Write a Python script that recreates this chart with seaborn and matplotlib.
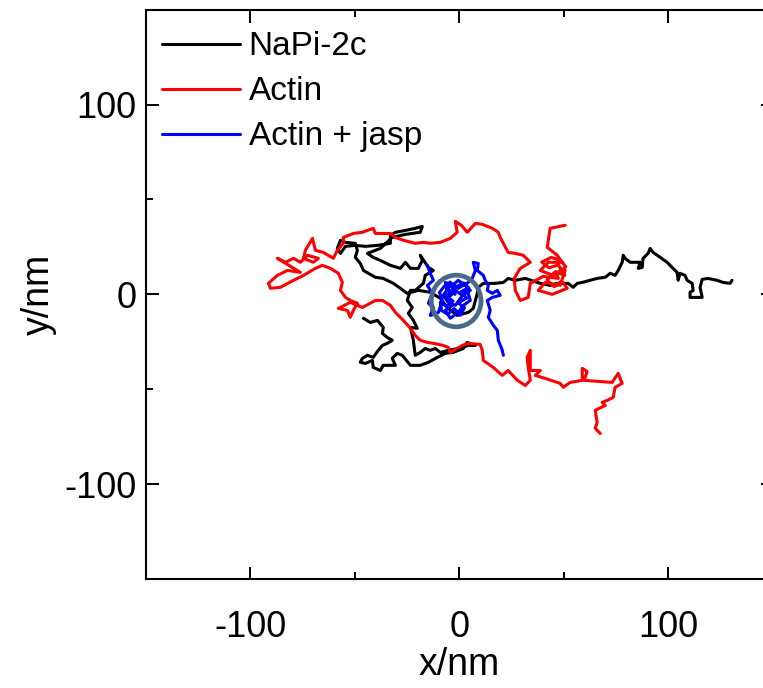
import numpy as np
import pandas as pd
import matplotlib
matplotlib.use("Agg")
import matplotlib.pyplot as plt
from matplotlib.patches import Ellipse
import seaborn as sns

# ---- data (nm) ----
napi_x = [130.6, 129.7, 126.3, 123.5, 119.1, 116.3, 115.3, 116.3, 110.5, 110.5, 112.0, 111.5, 109.1, 108.1,
          105.7, 104.8, 104.3, 101.9, 99.5, 96.2, 92.8, 91.4, 90.4, 88.0, 87.6, 85.7, 86.6, 81.8, 79.4, 78.5,
          78.0, 76.1, 74.6, 72.3, 69.9, 66.0, 62.7, 58.9, 56.5, 54.5, 52.2, 46.9, 43.5, 38.8, 31.6, 26.8, 23.4,
          21.1, 17.2, 11.5, 9.1, 8.6, 7.7, 6.7, 4.3, -1.0, -5.3, -9.1, -13.9, -19.6, -24.9, -28.2, -31.6, -36.4,
          -40.2, -45.9, -47.4, -49.8, -48.8, -49.8, -54.5, -56.9, -58.4, -56.9, -54.5, -49.8, -45.0, -39.2,
          -33.0, -33.0, -30.6, -25.8, -21.1, -17.7, -18.7, -25.8, -32.1, -37.8, -44.0, -41.2, -37.8, -33.0,
          -28.2, -25.8, -23.4, -19.6, -17.7, -18.7, -14.8, -12.4, -16.3, -17.2, -21.1, -23.4, -24.9, -22.5,
          -24.4, -22.0, -20.1, -23.4, -22.0, -21.1, -18.7, -16.3, -13.9, -11.5, -9.1, -5.3, -0.5, 4.3, 7.7,
          3.8, 1.9, -2.9, -6.7, -10.5, -14.8, -18.7, -23.4, -27.3, -29.7, -32.1, -30.6, -36.4, -37.8, -41.2,
          -41.6, -45.0, -47.4, -46.4, -44.0, -41.2, -38.8, -36.8, -34.5, -32.1, -34.5, -36.8, -36.4, -39.2,
          -42.6, -45.9]
napi_y = [7.4, 5.8, 6.3, 7.4, 8.4, 7.9, 3.7, -1.6, -1.6, 1.1, 2.1, 5.8, 7.4, 10.0, 11.1, 7.4, 11.6, 14.2,
          16.9, 19.5, 22.1, 24.2, 21.6, 19.0, 14.2, 13.7, 16.9, 16.9, 19.0, 20.6, 16.9, 12.6, 10.0, 11.1, 9.0,
          8.4, 7.4, 6.3, 5.8, 3.7, 5.8, 5.8, 4.7, 5.8, 8.4, 7.4, 8.4, 6.3, 5.8, 5.8, 3.7, 0.5, -3.2, -7.4, -9.5,
          -11.1, -7.4, -2.1, 1.1, 2.1, 0.5, 3.2, 5.8, 8.4, 9.0, 12.6, 16.3, 19.5, 23.2, 26.9, 27.4, 28.5, 24.2,
          21.6, 25.3, 25.8, 25.3, 25.8, 26.9, 31.1, 32.7, 33.7, 34.8, 35.8, 32.7, 31.6, 30.0, 24.2, 21.6, 19.5,
          17.9, 15.3, 13.7, 16.9, 13.7, 13.7, 17.9, 20.6, 14.2, 12.6, 10.0, 5.8, 2.1, 2.1, -3.2, -6.9, -10.0,
          -13.7, -17.9, -17.4, -24.2, -32.1, -30.6, -28.5, -29.5, -28.5, -30.6, -29.5, -28.5, -26.9, -26.9,
          -25.3, -28.5, -30.6, -31.1, -33.2, -35.8, -37.4, -37.4, -32.1, -31.1, -33.7, -37.4, -37.4, -40.1,
          -38.5, -34.8, -36.4, -35.8, -33.7, -32.1, -33.2, -29.5, -26.9, -25.8, -24.2, -22.7, -20.6, -17.4,
          -13.7, -14.8, -12.6]

actin_x = [50.7, 43.5, 42.1, 46.9, 49.3, 42.6, 38.8, 45.0, 50.7, 48.3, 41.2, 37.8, 44.5, 51.7,
           49.0, 45.5, 42.0, 46.0, 50.5, 47.5, 43.0, 39.5, 44.0, 48.5, 51.0, 46.5,
           47.4, 40.2, 34.0, 33.0, 29.2, 26.8, 26.3, 29.2, 34.0, 30.6, 26.8, 23.4, 21.1, 19.6, 18.7, 15.8, 11.0,
           7.7, 3.8, 1.0, -1.9, -1.0, -4.3, -9.1, -13.9, -17.2, -21.1, -26.8, -30.6, -33.0, -37.8, -40.2, -41.2,
           -46.4, -50.7, -55.5, -55.5, -58.4, -60.3, -65.1, -68.9, -70.3, -73.7, -74.6, -69.9, -67.5, -72.7,
           -76.1, -79.4, -83.3, -87.1, -80.9, -76.1, -82.3, -87.1, -91.4, -90.4, -85.7, -79.4, -74.6, -68.9,
           -65.6, -61.7, -57.9, -56.0, -56.9, -54.5, -52.2, -48.8, -50.7, -52.2, -53.6, -57.9, -52.2, -46.4,
           -40.2, -36.8, -33.0, -30.6, -26.8, -23.4, -21.1, -18.7, -15.3, -12.4, -7.7, -5.3, -4.3, -1.0, 1.4,
           4.3, 10.0, 11.0, 11.5, 16.3, 20.6, 23.4, 27.8, 31.6, 34.0, 33.0, 32.5, 34.0, 34.0, 38.8, 36.4, 41.2,
           48.3, 49.8, 53.1, 58.9, 58.9, 61.2, 59.8, 73.2, 76.1, 78.0, 74.6, 73.7, 70.8, 68.4, 69.9, 65.1, 66.0,
           65.1, 67.5]
actin_y = [36.4, 34.8, 24.8, 20.6, 16.9, 16.9, 12.6, 10.0, 12.6, 4.7, 6.3, 2.1, 0.0, 3.2,
           7.0, 4.0, 7.5, 12.0, 10.0, 15.5, 14.0, 17.0, 19.5, 18.0, 14.5, 11.0,
           8.4, 9.5, 5.8, -1.6, -3.2, 2.1, 8.4, 13.7, 16.9, 20.6, 21.6, 22.1, 26.9, 30.0, 32.7, 34.8, 36.9,
           37.4, 32.7, 36.4, 38.5, 32.7, 29.5, 27.4, 26.9, 27.4, 26.9, 28.5, 30.0, 32.1, 32.1, 32.1, 34.8,
           32.7, 32.1, 30.0, 26.9, 23.2, 19.0, 22.1, 23.2, 29.5, 23.2, 19.0, 16.9, 19.0, 20.6, 16.9, 19.0,
           16.9, 19.0, 14.8, 11.6, 12.6, 10.0, 5.8, 3.2, 3.7, 7.4, 10.0, 13.7, 15.3, 13.7, 11.1, 6.3, 2.1,
           -1.6, -3.2, -4.7, -8.4, -12.1, -8.4, -7.4, -4.2, -6.9, -3.2, -3.2, -5.8, -9.5, -13.7, -17.9, -21.6,
           -24.2, -25.3, -25.8, -26.9, -27.9, -30.6, -28.5, -26.9, -25.8, -26.4, -29.5, -34.8, -38.5, -42.7,
           -40.1, -45.3, -48.0, -45.3, -38.5, -33.2, -29.5, -40.1, -40.1, -42.7, -44.3, -46.9, -49.0, -46.4,
           -45.3, -39.0, -40.6, -45.3, -46.4, -41.6, -46.9, -49.0, -54.3, -55.9, -56.9, -58.5, -61.1, -67.5,
           -70.6, -73.3]

jasp_x = [-15.3, -13.9, -12.4, -15.3, -12.9, -14.8, -12.4, -13.9, -10.0, -8.1,
          -9.5, -7.0, -4.0, -6.5, -3.0, -6.0, -9.0, -8.5, -5.5, -2.5, 0.5, 2.5, -0.5, 3.5, 1.0, 4.5, 2.0,
          -1.5, -4.5, -2.0, -6.0,
          -5.3, -6.7, -3.3, -0.5, 2.9, 5.3, 1.4, -1.9, -5.3, -3.3, -6.7, -4.3, -0.5, 1.9, 5.3, 3.8, 0.5,
          -1.9, -5.3, -7.7, -4.3, -0.5, 4.3, 6.2, 7.7, 6.7, 9.1, 8.6, 11.5, 12.4, 13.9, 13.4, 15.8, 18.2,
          19.6, 15.8, 13.4, 14.8, 13.9, 16.3, 18.2, 18.7, 20.6, 21.1]
jasp_y = [15.3, 11.1, 7.4, 4.7, 0.5, -4.7, -6.9, -11.1, -9.5, -3.2,
          1.0, 4.5, 1.5, -1.0, -3.5, -6.5, -4.0, -8.5, -10.5, -7.5, -11.0, -7.0, -4.5, -2.0, 1.5, 3.5, 6.0,
          4.0, 6.5, 0.0, 2.5,
          2.1, 6.3, 4.7, 7.4, 4.7, 2.1, -0.5, 2.1, -2.1, -5.8, -8.4, -12.6, -9.5, -5.8, -3.2, 2.1, -2.1,
          -5.8, -4.2, -0.5, 4.7, 3.2, 6.3, 8.4, 12.6, 16.9, 16.3, 12.6, 10.0, 7.4, 4.7, 2.1, 0.5, 2.1,
          -0.5, -1.6, -3.2, -8.4, -12.1, -16.3, -19.0, -24.2, -29.5, -32.1]

labels = ["NaPi-2c", "Actin", "Actin + jasp"]
colors = ["#000000", "#ff0000", "#0000ff"]
circle_center = (-1.5, -3.5)

x_ticks = [-100, 0, 100]
y_ticks = [-100, 0, 100]

# ---- build tidy table ----
frames = []
for lab, xs, ys in zip(labels, [napi_x, actin_x, jasp_x], [napi_y, actin_y, jasp_y]):
    frames.append(pd.DataFrame({"x": xs, "y": ys, "track": lab}))
df = pd.concat(frames, ignore_index=True)

sns.set_style("ticks")
plt.rcParams["font.family"] = ["Liberation Sans", "DejaVu Sans"]
plt.rcParams["axes.unicode_minus"] = False
for k in ["text.color", "axes.labelcolor", "xtick.color", "ytick.color", "axes.edgecolor"]:
    plt.rcParams[k] = "black"

fig = plt.figure(figsize=(7.63, 6.88), dpi=100)
ax = fig.add_axes([0.1914, 0.1584, 0.8211, 0.8275])

sns.lineplot(data=df, x="x", y="y", hue="track", hue_order=labels,
             palette=dict(zip(labels, colors)), sort=False, estimator=None,
             units="track", linewidth=2.2, ax=ax)

ring = Ellipse(circle_center, width=23.8, height=27.2, fill=False,
               edgecolor="#4b6a8b", linewidth=3.4, zorder=5)
ax.add_patch(ring)

ax.set_xlim(-150, 150)
ax.set_ylim(-150, 150)
ax.set_xticks(x_ticks)
ax.set_yticks(y_ticks)
ax.set_xticks([-50, 50], minor=True)
ax.set_yticks([-150, -50, 50, 150], minor=True)
ax.tick_params(which="both", direction="in", top=True, right=True,
               width=1.4, labelsize=26, colors="black")
ax.tick_params(axis="x", which="major", pad=22)
ax.tick_params(axis="y", which="major", pad=7)
ax.tick_params(which="major", length=9)
ax.tick_params(which="minor", length=5)
for sp in ax.spines.values():
    sp.set_linewidth(1.5)
    sp.set_color("black")

ax.set_xlabel("x/nm", fontsize=27, labelpad=2)
ax.set_ylabel("y/nm", fontsize=27, labelpad=5)

handles, labs = ax.get_legend_handles_labels()
leg = ax.legend(handles, labs, loc="upper left", frameon=False, fontsize=24,
                handlelength=2.35, handletextpad=0.25, labelspacing=0.42,
                borderaxespad=0.45, borderpad=0.2, bbox_to_anchor=(-0.009, 1.0))
for h in leg.get_lines():
    h.set_linewidth(2.2)

fig.savefig("out.png", dpi=100)
